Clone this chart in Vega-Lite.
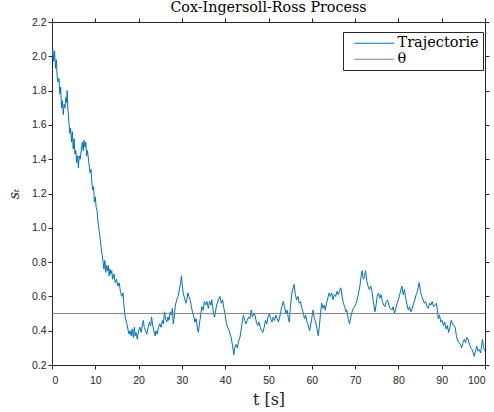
{
  "$schema": "https://vega.github.io/schema/vega-lite/v6.json",
  "width": 433,
  "height": 343,
  "autosize": {"type": "none"},
  "padding": {"left": 52, "top": 22, "right": 9, "bottom": 47},
  "background": "white",
  "title": {"text": "Cox-Ingersoll-Ross Process", "font": "DejaVu Serif", "fontSize": 14.3, "fontWeight": "normal", "color": "#000000", "anchor": "middle", "offset": 0, "baseline": "bottom", "dy": 12},
  "config": {
    "view": {"stroke": "#262626", "strokeWidth": 1},
    "axis": {"grid": false, "domain": true, "domainColor": "#262626", "domainWidth": 1, "tickColor": "#262626", "tickSize": 4, "tickWidth": 1, "labelFont": "Liberation Sans", "labelFontSize": 10.5, "labelColor": "#262626", "titleFont": "DejaVu Serif", "titleFontWeight": "normal", "titleColor": "#262626"},
    "legend": {"orient": "none", "legendX": 291, "legendY": 10, "strokeColor": "#262626", "fillColor": "white", "padding": 4, "symbolType": "M0,0H8", "symbolSize": 100, "symbolStrokeWidth": 1, "labelFont": "DejaVu Serif", "labelFontSize": 14.5, "labelColor": "#000000", "rowPadding": 1, "labelOffset": 36, "cornerRadius": 0}
  },
  "resolve": {"axis": {"x": "independent", "y": "independent"}},
  "layer": [
    {
      "data": {"values": [
        {"t":0,"v":2.0},{"t":0.2,"v":2.04},{"t":0.4,"v":1.97},{"t":0.6,"v":2.03},{"t":0.8,"v":1.93},{"t":1.0,"v":1.98},{"t":1.2,"v":1.88},{"t":1.4,"v":1.85},{"t":1.6,"v":1.87},{"t":1.8,"v":1.78},{"t":2.0,"v":1.82},{"t":2.2,"v":1.70},{"t":2.4,"v":1.74},{"t":2.6,"v":1.66},{"t":2.8,"v":1.72},{"t":3.0,"v":1.70},{"t":3.2,"v":1.76},{"t":3.4,"v":1.73},{"t":3.5,"v":1.80},{"t":3.7,"v":1.68},{"t":3.9,"v":1.62},{"t":4.1,"v":1.55},{"t":4.3,"v":1.58},{"t":4.5,"v":1.50},{"t":4.7,"v":1.56},{"t":4.9,"v":1.46},{"t":5.1,"v":1.52},{"t":5.3,"v":1.43},{"t":5.5,"v":1.45},{"t":5.7,"v":1.38},{"t":5.9,"v":1.42},{"t":6.1,"v":1.35},{"t":6.3,"v":1.42},{"t":6.5,"v":1.40},{"t":6.8,"v":1.46},{"t":7.0,"v":1.50},{"t":7.2,"v":1.45},{"t":7.4,"v":1.51},{"t":7.6,"v":1.47},{"t":7.8,"v":1.50},{"t":8.0,"v":1.42},{"t":8.2,"v":1.45},{"t":8.5,"v":1.38},{"t":8.8,"v":1.32},{"t":9.0,"v":1.34},{"t":9.2,"v":1.27},{"t":9.4,"v":1.22},{"t":9.6,"v":1.24},{"t":9.8,"v":1.15},{"t":10.0,"v":1.18},{"t":10.2,"v":1.12},{"t":10.4,"v":1.10},{"t":10.6,"v":1.04},{"t":10.8,"v":1.00},{"t":11.0,"v":0.96},{"t":11.2,"v":0.92},{"t":11.4,"v":0.87},{"t":11.6,"v":0.84},{"t":11.8,"v":0.80},{"t":12.0,"v":0.76},{"t":12.2,"v":0.81},{"t":12.4,"v":0.74},{"t":12.6,"v":0.78},{"t":12.8,"v":0.75},{"t":13.0,"v":0.78},{"t":13.2,"v":0.72},{"t":13.4,"v":0.76},{"t":13.6,"v":0.73},{"t":13.8,"v":0.75},{"t":14.0,"v":0.70},{"t":14.3,"v":0.73},{"t":14.6,"v":0.68},{"t":14.9,"v":0.70},{"t":15.2,"v":0.66},{"t":15.5,"v":0.68},{"t":15.8,"v":0.63},{"t":16.1,"v":0.60},{"t":16.4,"v":0.62},{"t":16.6,"v":0.55},{"t":16.8,"v":0.50},{"t":17.0,"v":0.47},{"t":17.3,"v":0.44},{"t":17.6,"v":0.40},{"t":17.8,"v":0.38},
        {"t":18.0,"v":0.40},{"t":18.3,"v":0.37},{"t":18.5,"v":0.41},{"t":18.8,"v":0.36},{"t":19.0,"v":0.42},{"t":19.2,"v":0.37},{"t":19.4,"v":0.39},{"t":19.7,"v":0.35},{"t":20.0,"v":0.40},{"t":20.3,"v":0.42},{"t":20.6,"v":0.39},{"t":20.9,"v":0.44},{"t":21.1,"v":0.46},{"t":21.3,"v":0.42},{"t":21.6,"v":0.40},{"t":21.9,"v":0.38},{"t":22.2,"v":0.42},{"t":22.5,"v":0.45},{"t":22.8,"v":0.43},{"t":23.0,"v":0.48},{"t":23.2,"v":0.44},{"t":23.5,"v":0.40},{"t":23.8,"v":0.37},{"t":24.0,"v":0.40},{"t":24.3,"v":0.38},{"t":24.6,"v":0.42},{"t":24.9,"v":0.44},{"t":25.2,"v":0.42},{"t":25.5,"v":0.46},{"t":25.7,"v":0.44},{"t":26.0,"v":0.51},{"t":26.2,"v":0.47},{"t":26.5,"v":0.45},{"t":26.8,"v":0.48},{"t":27.0,"v":0.46},{"t":27.3,"v":0.51},{"t":27.6,"v":0.49},{"t":27.8,"v":0.53},{"t":28.0,"v":0.44},{"t":28.2,"v":0.47},{"t":28.5,"v":0.55},{"t":28.8,"v":0.58},{"t":29.1,"v":0.60},{"t":29.4,"v":0.64},{"t":29.7,"v":0.68},{"t":29.9,"v":0.72},{"t":30.1,"v":0.66},{"t":30.3,"v":0.62},{"t":30.6,"v":0.59},{"t":30.9,"v":0.56},{"t":31.1,"v":0.58},{"t":31.4,"v":0.62},{"t":31.6,"v":0.60},{"t":31.9,"v":0.58},{"t":32.2,"v":0.54},{"t":32.5,"v":0.50},{"t":32.8,"v":0.48},{"t":33.0,"v":0.45},{"t":33.3,"v":0.47},{"t":33.6,"v":0.41},{"t":33.8,"v":0.39},{"t":34.1,"v":0.45},{"t":34.4,"v":0.50},{"t":34.6,"v":0.54},{"t":34.9,"v":0.52},{"t":35.2,"v":0.57},{"t":35.5,"v":0.55},{"t":35.8,"v":0.57},{"t":36.1,"v":0.53},{"t":36.4,"v":0.57},{"t":36.7,"v":0.55},{"t":36.9,"v":0.58},{"t":37.2,"v":0.52},{"t":37.5,"v":0.48},{"t":37.7,"v":0.50},{"t":38.0,"v":0.55},{"t":38.3,"v":0.57},{"t":38.6,"v":0.59},{"t":38.8,"v":0.60},{"t":39.1,"v":0.56},{"t":39.4,"v":0.58},{"t":39.7,"v":0.53},{"t":40.0,"v":0.49},{"t":40.3,"v":0.44},{"t":40.6,"v":0.42},{"t":40.9,"v":0.40},{"t":41.1,"v":0.38},{"t":41.4,"v":0.36},{"t":41.7,"v":0.31},{"t":42.0,"v":0.26},{"t":42.2,"v":0.30},{"t":42.5,"v":0.32},{"t":42.8,"v":0.30},{"t":43.1,"v":0.34},{"t":43.4,"v":0.36},{"t":43.7,"v":0.41},{"t":44.0,"v":0.46},{"t":44.2,"v":0.49},{"t":44.5,"v":0.46},{"t":44.8,"v":0.44},{"t":45.1,"v":0.46},{"t":45.4,"v":0.48},{"t":45.7,"v":0.47},{"t":46.0,"v":0.52},{"t":46.3,"v":0.48},{"t":46.6,"v":0.50},{"t":46.9,"v":0.49},{"t":47.2,"v":0.45},{"t":47.5,"v":0.43},{"t":47.8,"v":0.45},{"t":48.1,"v":0.42},{"t":48.4,"v":0.40},{"t":48.7,"v":0.39},{"t":49.0,"v":0.42},{"t":49.3,"v":0.46},{"t":49.6,"v":0.44},{"t":49.9,"v":0.48},{"t":50.2,"v":0.50},{"t":50.5,"v":0.47},{"t":50.8,"v":0.45},{"t":51.1,"v":0.48},{"t":51.4,"v":0.46},{"t":51.7,"v":0.49},{"t":52.0,"v":0.47},{"t":52.3,"v":0.45},{"t":52.6,"v":0.48},{"t":52.9,"v":0.52},{"t":53.2,"v":0.55},{"t":53.4,"v":0.57},{"t":53.7,"v":0.54},{"t":54.0,"v":0.50},{"t":54.3,"v":0.52},{"t":54.6,"v":0.47},{"t":54.8,"v":0.45},{"t":55.1,"v":0.55},{"t":55.4,"v":0.62},{"t":55.7,"v":0.65},{"t":55.9,"v":0.67},{"t":56.2,"v":0.61},{"t":56.5,"v":0.58},{"t":56.8,"v":0.60},{"t":57.1,"v":0.56},{"t":57.4,"v":0.57},{"t":57.7,"v":0.53},{"t":58.0,"v":0.51},{"t":58.3,"v":0.47},{"t":58.6,"v":0.49},{"t":58.9,"v":0.45},{"t":59.2,"v":0.43},{"t":59.5,"v":0.40},{"t":59.8,"v":0.44},{"t":60.1,"v":0.49},{"t":60.3,"v":0.52},{"t":60.6,"v":0.47},{"t":60.9,"v":0.45},{"t":61.2,"v":0.41},{"t":61.5,"v":0.37},{"t":61.8,"v":0.44},{"t":62.0,"v":0.50},{"t":62.3,"v":0.56},{"t":62.6,"v":0.53},{"t":62.9,"v":0.55},{"t":63.1,"v":0.52},{"t":63.4,"v":0.56},{"t":63.7,"v":0.59},{"t":64.0,"v":0.62},{"t":64.3,"v":0.60},{"t":64.6,"v":0.62},{"t":64.9,"v":0.58},{"t":65.2,"v":0.61},{"t":65.5,"v":0.60},{"t":65.8,"v":0.63},{"t":66.1,"v":0.61},{"t":66.4,"v":0.63},{"t":66.7,"v":0.65},{"t":67.0,"v":0.60},{"t":67.3,"v":0.56},{"t":67.6,"v":0.54},{"t":67.9,"v":0.51},{"t":68.1,"v":0.52},{"t":68.4,"v":0.47},{"t":68.7,"v":0.44},{"t":69.0,"v":0.48},{"t":69.3,"v":0.51},{"t":69.6,"v":0.53},{"t":69.9,"v":0.54},{"t":70.2,"v":0.56},{"t":70.5,"v":0.58},{"t":70.8,"v":0.62},{"t":71.1,"v":0.66},{"t":71.4,"v":0.72},{"t":71.6,"v":0.75},{"t":71.9,"v":0.70},{"t":72.2,"v":0.72},{"t":72.4,"v":0.75},{"t":72.7,"v":0.69},{"t":73.0,"v":0.66},{"t":73.3,"v":0.64},{"t":73.6,"v":0.66},{"t":73.9,"v":0.63},{"t":74.2,"v":0.57},{"t":74.6,"v":0.51},{"t":74.9,"v":0.56},{"t":75.1,"v":0.60},{"t":75.4,"v":0.62},{"t":75.7,"v":0.59},{"t":76.0,"v":0.61},{"t":76.3,"v":0.57},{"t":76.6,"v":0.55},{"t":76.9,"v":0.54},{"t":77.2,"v":0.57},{"t":77.5,"v":0.58},{"t":77.8,"v":0.55},{"t":78.1,"v":0.53},{"t":78.5,"v":0.52},{"t":78.8,"v":0.54},{"t":79.1,"v":0.50},{"t":79.4,"v":0.53},{"t":79.7,"v":0.56},{"t":80.0,"v":0.58},{"t":80.3,"v":0.61},{"t":80.6,"v":0.64},{"t":80.8,"v":0.66},{"t":81.1,"v":0.61},{"t":81.4,"v":0.64},{"t":81.7,"v":0.59},{"t":82.0,"v":0.55},{"t":82.3,"v":0.52},{"t":82.6,"v":0.54},{"t":82.9,"v":0.51},{"t":83.2,"v":0.53},{"t":83.5,"v":0.56},{"t":83.8,"v":0.58},{"t":84.1,"v":0.61},{"t":84.4,"v":0.63},{"t":84.8,"v":0.68},{"t":85.1,"v":0.63},{"t":85.4,"v":0.60},{"t":85.7,"v":0.58},{"t":86.0,"v":0.56},{"t":86.3,"v":0.57},{"t":86.6,"v":0.54},{"t":86.9,"v":0.53},{"t":87.2,"v":0.56},{"t":87.5,"v":0.55},{"t":87.8,"v":0.57},{"t":88.1,"v":0.54},{"t":88.4,"v":0.55},{"t":88.8,"v":0.56},{"t":89.0,"v":0.52},{"t":89.2,"v":0.47},{"t":89.5,"v":0.49},{"t":89.8,"v":0.45},{"t":90.1,"v":0.46},{"t":90.4,"v":0.43},{"t":90.7,"v":0.45},{"t":91.0,"v":0.41},{"t":91.3,"v":0.43},{"t":91.6,"v":0.39},{"t":91.9,"v":0.42},{"t":92.2,"v":0.46},{"t":92.5,"v":0.44},{"t":92.8,"v":0.43},{"t":93.1,"v":0.42},{"t":93.4,"v":0.37},{"t":93.7,"v":0.34},{"t":94.0,"v":0.33},{"t":94.3,"v":0.32},{"t":94.6,"v":0.30},{"t":94.9,"v":0.33},{"t":95.2,"v":0.35},{"t":95.5,"v":0.33},{"t":95.8,"v":0.36},{"t":96.1,"v":0.35},{"t":96.4,"v":0.32},{"t":96.7,"v":0.30},{"t":97.0,"v":0.29},{"t":97.3,"v":0.27},{"t":97.5,"v":0.25},{"t":97.8,"v":0.28},{"t":98.1,"v":0.31},{"t":98.4,"v":0.28},{"t":98.7,"v":0.29},{"t":99.0,"v":0.27},{"t":99.2,"v":0.31},{"t":99.4,"v":0.35},{"t":99.7,"v":0.30},{"t":100.0,"v":0.28}
      ]},
      "mark": {"type": "line", "strokeWidth": 1, "clip": true},
      "encoding": {
        "x": {"field": "t", "type": "quantitative", "scale": {"domain": [0, 100], "nice": false, "zero": false}, "axis": {"orient": "bottom", "values": [0,10,20,30,40,50,60,70,80,90,100], "title": "t [s]", "titleFont": "DejaVu Serif", "titleFontSize": 16, "titlePadding": 6, "labelPadding": 6}},
        "y": {"field": "v", "type": "quantitative", "scale": {"domain": [0.2, 2.2], "nice": false, "zero": false}, "axis": {"orient": "left", "values": [0.2,0.4,0.6,0.8,1,1.2,1.4,1.6,1.8,2,2.2], "title": "sₜ", "titleFont": "DejaVu Serif", "titleFontStyle": "italic", "titleFontSize": 14, "titlePadding": 10, "labelPadding": 2}},
        "color": {"datum": "Trajectorie", "type": "nominal", "scale": {"domain": ["Trajectorie", "θ"], "range": ["#0072BD", "#808080"]}, "legend": {"title": null}}
      }
    },
    {
      "data": {"values": [{"t": 0, "v": 0.5}, {"t": 100, "v": 0.5}]},
      "mark": {"type": "line", "strokeWidth": 1},
      "encoding": {
        "x": {"field": "t", "type": "quantitative", "axis": {"orient": "top", "values": [0,10,20,30,40,50,60,70,80,90,100], "labels": false, "title": null}},
        "y": {"field": "v", "type": "quantitative", "axis": {"orient": "right", "values": [0.2,0.4,0.6,0.8,1,1.2,1.4,1.6,1.8,2,2.2], "labels": false, "title": null}},
        "color": {"datum": "θ", "type": "nominal"}
      }
    }
  ]
}
